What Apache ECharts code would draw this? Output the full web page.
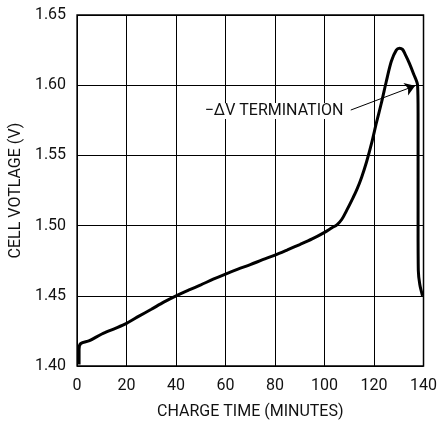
<!DOCTYPE html>
<html>
<head>
<meta charset="utf-8">
<script src="https://cdn.jsdelivr.net/npm/echarts@6/dist/echarts.min.js"></script>
<style>
html,body{margin:0;padding:0;background:#fff;}
#c{width:440px;height:426px;}
</style>
</head>
<body>
<div id="c"></div>
<script>
const chargeTime = [0.8,0.8,1.5,5,10,15,20,25,30,35,40,45,50,55,60,65,70,75,80,85,90,95,100,103,105,107,109,111,113,115,117,119,121,123,125,127,129,130.3,131.5,132.6,134.3,136,137.6,137.8,137.8,137.9,138.5,139.6];
const cellVoltage = [1.401,1.412,1.416,1.418,1.4228,1.4265,1.4304,1.4355,1.4404,1.4455,1.45,1.454,1.4578,1.4618,1.4655,1.469,1.4722,1.4757,1.479,1.4827,1.4865,1.4905,1.4952,1.4985,1.5005,1.5045,1.511,1.518,1.5254,1.5345,1.5455,1.5585,1.5735,1.5875,1.603,1.617,1.625,1.6263,1.6255,1.622,1.6156,1.608,1.600,1.58,1.50,1.468,1.458,1.450];
const xTicks = [0,20,40,60,80,100,120,140];
const yTicks = ['1.40','1.45','1.50','1.55','1.60','1.65'];
const annotationText = '\u2212\u0394V TERMINATION';
const annotationLabelAt = [79.6, 1.5816];
const arrowFrom = [110.6, 1.5823];
const arrowTo = [136.6, 1.5996];

const FONT = 'Roboto, "Liberation Sans", sans-serif';
const TXT = '#111';
const chart = echarts.init(document.getElementById('c'));
chart.setOption({
  animation: false,
  backgroundColor: '#fff',
  grid: {left: 74, right: 14, top: 15, bottom: 60, show: true, borderColor: '#000', borderWidth: 1.5, backgroundColor: 'transparent'},
  xAxis: {
    type: 'value', min: xTicks[0], max: xTicks[xTicks.length-1], interval: 20,
    name: 'CHARGE TIME (MINUTES)', nameLocation: 'middle', nameGap: 38,
    nameTextStyle: {fontFamily: FONT, fontSize: 16, color: TXT},
    axisLine: {show: false}, axisTick: {show: false},
    axisLabel: {fontFamily: FONT, fontSize: 16, color: TXT, margin: 12},
    splitLine: {show: true, lineStyle: {color: '#000', width: 1}}
  },
  yAxis: {
    type: 'value', min: parseFloat(yTicks[0]), max: parseFloat(yTicks[yTicks.length-1]), interval: 0.05,
    name: 'CELL VOTLAGE (V)', nameLocation: 'middle', nameGap: 47,
    nameTextStyle: {fontFamily: FONT, fontSize: 16, color: TXT},
    axisLine: {show: false}, axisTick: {show: false},
    axisLabel: {fontFamily: FONT, fontSize: 16, color: TXT, margin: 11, formatter: v => v.toFixed(2)},
    splitLine: {show: true, lineStyle: {color: '#000', width: 1}}
  },
  series: [{
    type: 'line',
    data: chargeTime.map((t, i) => [t, cellVoltage[i]]),
    showSymbol: false,
    smooth: 0.3,
    lineStyle: {color: '#000', width: 3},
    z: 5,
    markLine: {
      silent: true,
      symbol: ['none', 'arrow'],
      symbolSize: 10,
      lineStyle: {color: '#000', width: 1, type: 'solid'},
      label: {show: false},
      data: [[{coord: arrowFrom}, {coord: arrowTo}]]
    },
    markPoint: {
      silent: true,
      symbol: 'rect', symbolSize: 0,
      label: {show: true, position: 'inside', formatter: annotationText, fontFamily: FONT, fontSize: 16, color: TXT, backgroundColor: '#fff', padding: [0, 2]},
      data: [{coord: annotationLabelAt}]
    }
  }]
});
</script>
</body>
</html>
